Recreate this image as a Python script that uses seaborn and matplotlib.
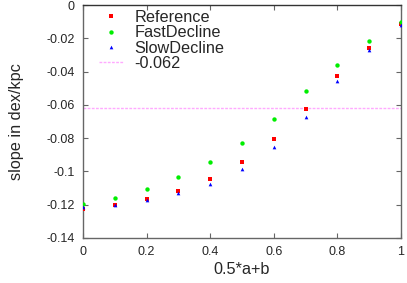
import numpy as np
import pandas as pd
import matplotlib
matplotlib.use('Agg')
import matplotlib.pyplot as plt
import seaborn as sns

x_vals = [0.0, 0.1, 0.2, 0.3, 0.4, 0.5, 0.6, 0.7, 0.8, 0.9, 1.0]
reference = [-0.1226, -0.1202, -0.1168, -0.1118, -0.1048, -0.0946, -0.0806, -0.0624, -0.0426, -0.0256, -0.0114]
fast_decline = [-0.1196, -0.1158, -0.1104, -0.1036, -0.0946, -0.0830, -0.0685, -0.0518, -0.0360, -0.0216, -0.0102]
slow_decline = [-0.1216, -0.1200, -0.1172, -0.1132, -0.1074, -0.0986, -0.0854, -0.0672, -0.0458, -0.0272, -0.0118]
threshold = -0.062

sns.set_theme(style='white')
plt.rcParams['font.family'] = ['Liberation Sans', 'DejaVu Sans']

fig = plt.figure(figsize=(4.07, 2.83), dpi=100)
ax = fig.add_axes([83 / 407, 1 - 238 / 283, 318 / 407, 233 / 283])

series = [
    ('Reference', reference, '#ff0000', 's', 9),
    ('FastDecline', fast_decline, '#00ee00', 'o', 10),
    ('SlowDecline', slow_decline, '#0000ff', '^', 7),
]
for name, vals, color, marker, size in series:
    df = pd.DataFrame({'x': x_vals, 'y': vals})
    sns.scatterplot(data=df, x='x', y='y', ax=ax, color=color, marker=marker,
                    s=size, linewidth=0, label=name, zorder=3)

ax.axhline(threshold, color='#ffaaff', lw=1.0, ls=(0, (2, 1)), label='-0.062', zorder=1)

ax.set_xlim(0, 1)
ax.set_ylim(-0.14, 0)
ax.set_xticks(np.arange(0, 1.01, 0.2))
ax.set_xticklabels(['0', '0.2', '0.4', '0.6', '0.8', '1'])
ax.set_yticks(np.arange(-0.14, 0.001, 0.02))
ax.set_yticklabels(['-0.14', '-0.12', '-0.1', '-0.08', '-0.06', '-0.04', '-0.02', '0'])
ax.tick_params(direction='in', length=3.5, width=0.8, color='#666666',
               labelsize=9, top=True, right=True, bottom=True, left=True, pad=6)
for side in ['left', 'bottom', 'right']:
    ax.spines[side].set_color('#666666')
    ax.spines[side].set_linewidth(1.0)
ax.spines['top'].set_color('#333333')
ax.spines['top'].set_linewidth(1.0)

ax.set_xlabel('0.5*a+b', fontsize=11.7, labelpad=3)
ax.set_ylabel('slope in dex/kpc', fontsize=11.7, labelpad=16)

leg = ax.legend(loc='upper left', bbox_to_anchor=(0.05, 0.978), frameon=False,
                fontsize=11.7, handlelength=1.5, handletextpad=0.7,
                labelspacing=0.02, borderaxespad=0.0, borderpad=0.0,
                markerscale=1.0, scatteryoffsets=[0.5])

fig.savefig('out.png', dpi=100)
